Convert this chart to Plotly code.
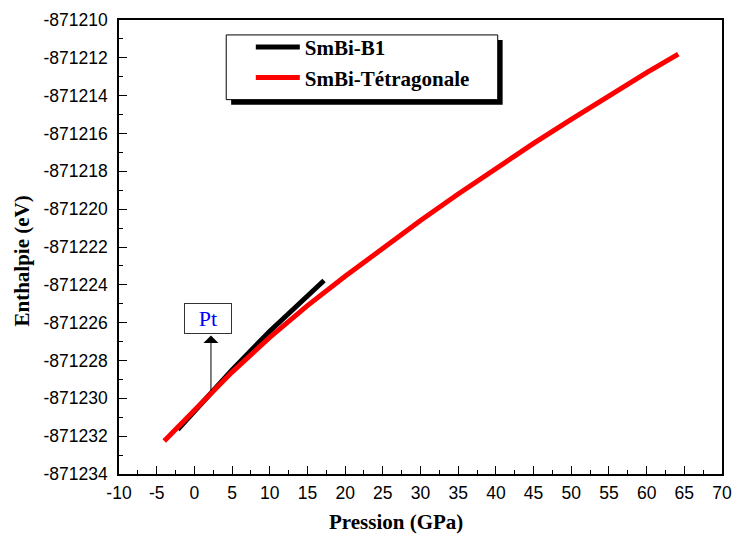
import plotly.graph_objects as go

# Data
p_tetra = [-4.0, 0, 2.2, 5, 10, 15, 20, 25, 30, 35, 40, 45, 50, 55, 60, 64.2]
h_tetra = [-871232.25, -871230.60, -871229.70, -871228.61, -871226.78, -871225.10,
           -871223.55, -871222.05, -871220.60, -871219.20, -871217.85, -871216.52,
           -871215.25, -871214.00, -871212.78, -871211.80]

p_b1 = [-2.2, 0, 2.2, 5, 10, 15, 17.2]
h_b1 = [-871231.65, -871230.69, -871229.70, -871228.50, -871226.45, -871224.56, -871223.77]

x_ticks = list(range(-10, 71, 5))
x_ticktext = [str(v) for v in x_ticks]
y_ticks = list(range(-871234, -871209, 2))
y_ticktext = [str(v) for v in y_ticks]

pt_pressure = 2.2
pt_tail = -871229.68
pt_tip = -871226.68

W, H = 742, 538
ML, MR, MT, MB = 119, 10, 18, 64
PW, PH = W - ML - MR, H - MT - MB

def px(x):
    return (x - ML) / PW

def py(y):
    return 1 - (y - MT) / PH

fig = go.Figure()
fig.add_trace(go.Scatter(x=p_b1, y=h_b1, mode="lines", name="SmBi-B1",
                         line=dict(color="black", width=5)))
fig.add_trace(go.Scatter(x=p_tetra, y=h_tetra, mode="lines", name="SmBi-Tétragonale",
                         line=dict(color="#ff0000", width=5)))

tickfont = dict(family="Liberation Sans, Arial", size=17.5, color="black")
titlefont = dict(family="Liberation Serif, Times New Roman", size=21, color="black", weight="bold")

fig.update_layout(
    width=W, height=H,
    margin=dict(l=ML, r=MR, t=MT, b=MB),
    paper_bgcolor="white", plot_bgcolor="white",
    showlegend=True,
    legend=dict(x=px(253), y=py(25), xanchor="left", yanchor="top",
                bgcolor="rgba(0,0,0,0)", borderwidth=0,
                font=dict(family="Liberation Serif, Times New Roman", size=21, color="black", weight="bold"),
                itemwidth=44, tracegroupgap=0),
    xaxis=dict(range=[-10, 70], tickvals=x_ticks, ticktext=x_ticktext,
               ticks="inside", ticklen=8, tickwidth=1.3, tickcolor="black",
               minor=dict(ticks="inside", ticklen=4, tickwidth=1.3, dtick=2.5, tick0=0, tickcolor="black"),
               showline=True, linecolor="black", linewidth=1.5, mirror=True,
               showgrid=False, zeroline=False, tickfont=tickfont, ticklabelstandoff=2),
    yaxis=dict(range=[-871234, -871210], tickvals=y_ticks, ticktext=y_ticktext,
               ticks="inside", ticklen=8, tickwidth=1.3, tickcolor="black",
               minor=dict(ticks="inside", ticklen=4, tickwidth=1.3, dtick=1, tick0=0, tickcolor="black"),
               showline=True, linecolor="black", linewidth=1.5, mirror=True,
               showgrid=False, zeroline=False, tickfont=tickfont, ticklabelstandoff=6),
)

# legend frame with drop shadow (legend entries are the native legend)
fig.add_shape(type="rect", xref="paper", yref="paper",
              x0=px(233), x1=px(509), y0=py(103), y1=py(38),
              fillcolor="black", line=dict(width=0), layer="above")
fig.add_shape(type="rect", xref="paper", yref="paper",
              x0=px(228), x1=px(504), y0=py(98), y1=py(33),
              fillcolor="white", line=dict(color="black", width=1), layer="above")

# axis titles
fig.add_annotation(x=px(401), y=py(522), xref="paper", yref="paper", text="Pression (GPa)",
                   showarrow=False, font=titlefont, xanchor="center", yanchor="middle")
fig.add_annotation(x=px(20), y=py(260), xref="paper", yref="paper", text="Enthalpie (eV)",
                   showarrow=False, font=titlefont, textangle=-90, xanchor="center", yanchor="middle")

# Pt arrow
fig.add_annotation(x=pt_pressure, y=pt_tip, ax=pt_pressure, ay=pt_tail,
                   xref="x", yref="y", axref="x", ayref="y", text="",
                   showarrow=True, arrowhead=1, arrowsize=2.5, arrowwidth=1, arrowcolor="black")
fig.add_annotation(x=1.8, y=-871225.79, xref="x", yref="y", text="Pt", showarrow=False,
                   font=dict(family="Liberation Serif, Times New Roman", size=22, color="blue"),
                   bgcolor="white", bordercolor="#333333", borderwidth=1, width=44, height=27)

fig.write_html("out.html")
